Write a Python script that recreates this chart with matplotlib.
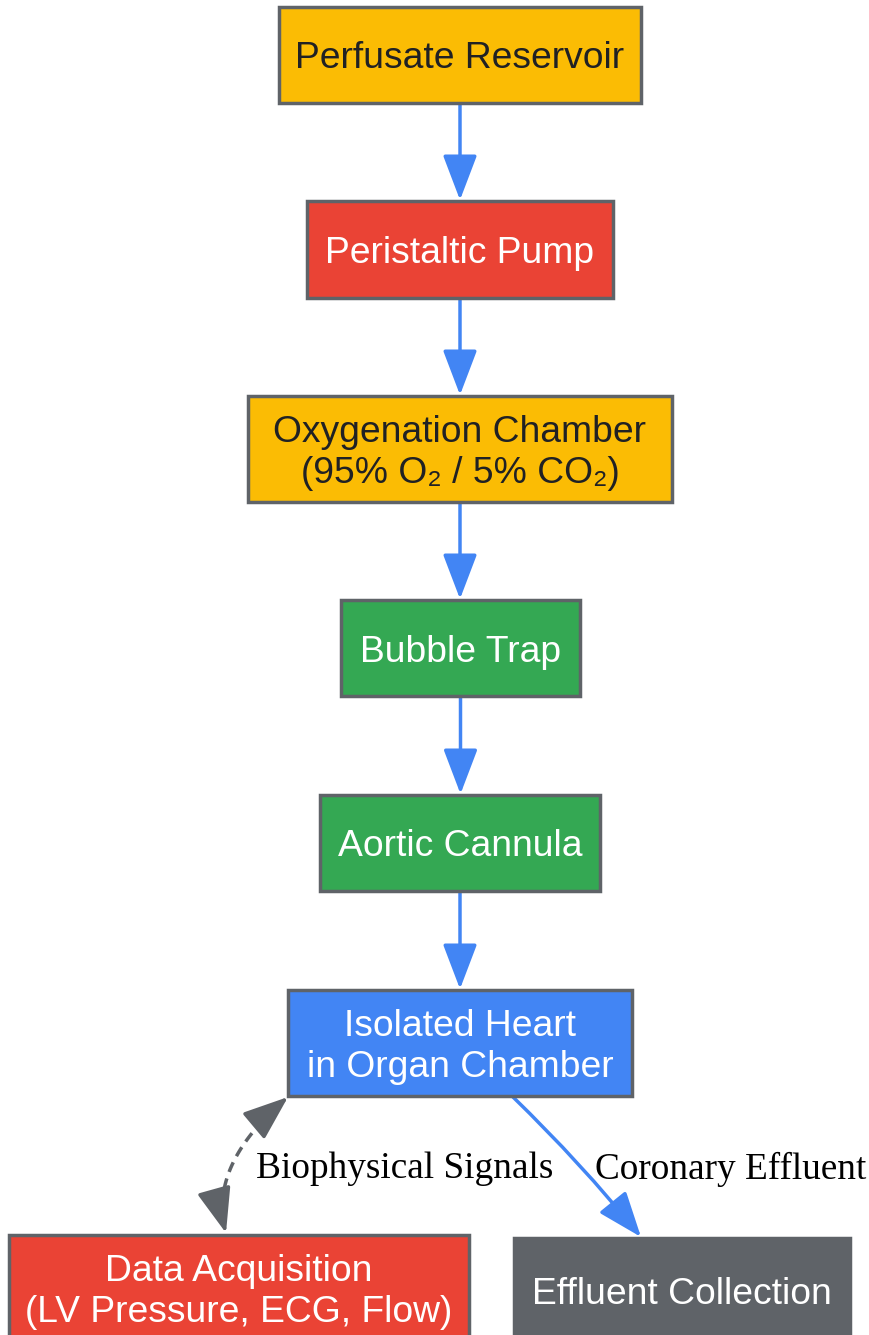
import numpy as np
import matplotlib.pyplot as plt
from matplotlib.patches import Rectangle, FancyArrowPatch

# node labels and colours
labels = [
    "Perfusate Reservoir",
    "Peristaltic Pump",
    "Oxygenation Chamber\n(95% O\u2082 / 5% CO\u2082)",
    "Bubble Trap",
    "Aortic Cannula",
    "Isolated Heart\nin Organ Chamber",
    "Data Acquisition\n(LV Pressure, ECG, Flow)",
    "Effluent Collection",
]
fills = ["#FBBC04", "#EA4335", "#FBBC04", "#34A853", "#34A853", "#4285F4", "#EA4335", "#5F6368"]
text_colors = ["#202124", "white", "#202124", "white", "white", "white", "white", "white"]

# main chain edges, plus the two branch edges from the heart
chain = [(0, 1), (1, 2), (2, 3), (3, 4), (4, 5)]
branch_labels = ["Biophysical Signals", "Coronary Effluent"]

# layout in pixels: (left, top, right, bottom)
boxes = [
    (279, 7, 641, 103),
    (307, 201, 613, 298),
    (248, 396, 672, 502),
    (341, 600, 580, 696),
    (320, 795, 600, 891),
    (288, 990, 632, 1096),
    (9, 1235, 469, 1341),
    (514, 1238, 850, 1342),
]

fig = plt.figure(figsize=(8.7, 13.35), dpi=100)
ax = fig.add_axes([0, 0, 1, 1])
ax.set_xlim(0, 870)
ax.set_ylim(1335, 0)
ax.axis("off")

sans = ["Liberation Sans", "DejaVu Sans"]
serif = ["Liberation Serif", "DejaVu Serif"]

for (l, t, r, b), lab, fc, tc in zip(boxes, labels, fills, text_colors):
    ax.add_patch(Rectangle((l, t), r - l, b - t, facecolor=fc, edgecolor="#5F6368", linewidth=2.5, zorder=2))
    ax.text((l + r) / 2, (t + b) / 2 + 4, lab, ha="center", va="center", color=tc,
            fontsize=26.8, family=sans, linespacing=1.22, zorder=3)

blue = "#4285F4"
gray = "#5F6368"
head = "-|>,head_length=1.0,head_width=0.38"

for a, b in chain:
    x = (boxes[a][0] + boxes[a][2]) / 2
    ax.add_patch(FancyArrowPatch((x, boxes[a][3] + 1), (x, boxes[b][1] - 1), arrowstyle=head,
                                 mutation_scale=28, color=blue, linewidth=2.5, shrinkA=0, shrinkB=0, zorder=1))

# heart -> effluent
ax.add_patch(FancyArrowPatch((513, 1097), (641, 1237), arrowstyle=head, mutation_scale=28,
                             connectionstyle="arc3,rad=-0.03", color=blue, linewidth=2.5,
                             shrinkA=0, shrinkB=0, zorder=1))

# heart <-> data acquisition: dashed quadratic curve with solid heads
p0 = np.array([288.0, 1097.0])
c = np.array([207.0, 1165.0])
p2 = np.array([226.0, 1233.0])
t = np.linspace(0.08, 0.92, 60)[:, None]
curve = (1 - t) ** 2 * p0 + 2 * (1 - t) * t * c + t ** 2 * p2
ax.plot(curve[:, 0], curve[:, 1], color=gray, linewidth=2.5, linestyle=(0, (3, 2)), zorder=1)
for end, ctrl in [(p0, c), (p2, c)]:
    d = (ctrl - end) / np.linalg.norm(ctrl - end)
    ax.add_patch(FancyArrowPatch(tuple(end + 30 * d), tuple(end), arrowstyle=head, mutation_scale=28,
                                 color=gray, linewidth=2.5, shrinkA=0, shrinkB=0, zorder=1))

ax.text(256, 1169, branch_labels[0], ha="left", va="center", fontsize=26.8, family=serif, color="black")
ax.text(595, 1169, branch_labels[1], ha="left", va="center", fontsize=26.8, family=serif, color="black")

fig.savefig("out.png", dpi=100, facecolor="white")
